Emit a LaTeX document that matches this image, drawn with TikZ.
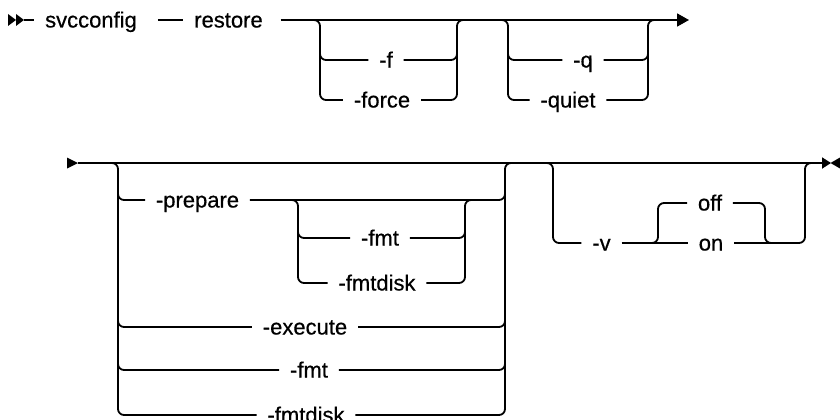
\documentclass[tikz,border=0pt]{standalone}
\usepackage{fontspec}
\setmainfont{Liberation Sans}
\newfontfamily\lblfont{Liberation Sans}[FakeBold=0.5]
\usetikzlibrary{arrows.meta}
\begin{document}
\begin{tikzpicture}[x=1pt,y=-1pt,line width=1.8pt,
  lbl/.style={font=\lblfont\fontsize{22}{22}\selectfont, inner xsep=10pt, inner ysep=0pt, text height=15pt, text depth=0pt},
  rc/.style={rounded corners=6pt},
  tip/.style={fill=black, draw=none}]
\useasboundingbox (0,0) rectangle (840,420);

% ---------- row 1 ----------
\coordinate (s1) at (24,20);
\fill[tip] (8,14) -- (16,20) -- (8,26) -- cycle;
\fill[tip] (16,14) -- (24,20) -- (16,26) -- cycle;
\node[lbl] (svc) at (91,20) {svcconfig};
\node[lbl] (restore) at (228.5,20) {restore};
\coordinate (e1) at (689,20);
\draw (s1) -- (svc.west);
\draw ([xshift=10pt]svc.east) -- (restore.west);
\draw[-{Triangle[length=12pt,width=13pt]}] ([xshift=7pt]restore.east) -- (e1);

% bracket A
\node[lbl] (f) at (386,60) {-f};
\node[lbl] (force) at (382,100) {-force};
\coordinate (AL) at (320,20);
\coordinate (AR) at (457,20);
\draw[rc] ([xshift=-12pt]AL) -- (AL) |- (force.west);
\draw[rc] ([yshift=-25pt]AL) |- (f.west);
\draw[rc] (f.east) -| ([yshift=-25pt]AR);
\draw[rc] (force.east) -| (AR) -- ([xshift=12pt]AR);

% bracket B
\node[lbl] (q) at (583,60) {-q};
\node[lbl] (quiet) at (568,100) {-quiet};
\coordinate (BL) at (508,20);
\coordinate (BR) at (648,20);
\draw[rc] ([xshift=-12pt]BL) -- (BL) |- (quiet.west);
\draw[rc] ([yshift=-25pt]BL) |- (q.west);
\draw[rc] (q.east) -| ([yshift=-25pt]BR);
\draw[rc] (quiet.east) -| (BR) -- ([xshift=12pt]BR);

% ---------- row 2 ----------
\coordinate (s2) at (78,163);
\coordinate (e2) at (831,163);
\fill[tip] (67,157.5) -- (78,163) -- (67,168.5) -- cycle;
\draw[-{Triangle[length=9pt,width=11pt]}] (s2) -- (e2);
\fill[tip] (840,157.5) -- (830.5,163) -- (840,168.5) -- cycle;

% bracket C (outer)
\node[lbl] (prep) at (197.5,200) {-prepare};
\node[lbl] (exec) at (305,327) {-execute};
\node[lbl] (fmtb) at (309,370) {-fmt};
\node[lbl] (fdb) at (306,415) {-fmtdisk};
\coordinate (CL) at (118,163);
\coordinate (CR) at (505,163);
\draw[rc] ([xshift=-12pt]CL) -- (CL) |- (fdb.west);
\draw[rc] ([yshift=-22pt]CL) |- (prep.west);
\draw[rc] ([yshift=-149pt]CL) |- (exec.west);
\draw[rc] ([yshift=-192pt]CL) |- (fmtb.west);
\draw[rc] (prep.east) -| ([yshift=-22pt]CR);
\draw[rc] (exec.east) -| ([yshift=-149pt]CR);
\draw[rc] (fmtb.east) -| ([yshift=-192pt]CR);
\draw[rc] (fdb.east) -| (CR) -- ([xshift=12pt]CR);

% bracket D (inner)
\node[lbl] (fmta) at (380,238) {-fmt};
\node[lbl] (fda) at (377,283) {-fmtdisk};
\coordinate (DL) at (298,200);
\coordinate (DR) at (465,200);
\draw[rc] ([xshift=-12pt]DL) -- (DL) |- (fda.west);
\draw[rc] ([yshift=-22pt]DL) |- (fmta.west);
\draw[rc] (fmta.east) -| ([yshift=-22pt]DR);
\draw[rc] (fda.east) -| (DR) -- ([xshift=12pt]DR);

% bracket E (-v)
\node[lbl] (v) at (601.5,243) {-v};
\node[lbl] (off) at (710,203) {off};
\node[lbl] (on) at (711,243) {on};
\coordinate (EL) at (553,163);
\coordinate (ER) at (805,163);
\draw[rc] ([xshift=-12pt]EL) -- (EL) |- (v.west);
\draw (v.east) -- (on.west);
\draw[rc] (on.east) -| (ER) -- ([xshift=12pt]ER);

% bracket F (off/on)
\coordinate (FL) at (658,243);
\coordinate (FR) at (765,243);
\draw[rc] ([xshift=-12pt]FL) -- (FL) |- (off.west);
\draw[rc] (off.east) -| (FR) -- ([xshift=12pt]FR);
\end{tikzpicture}
\end{document}
